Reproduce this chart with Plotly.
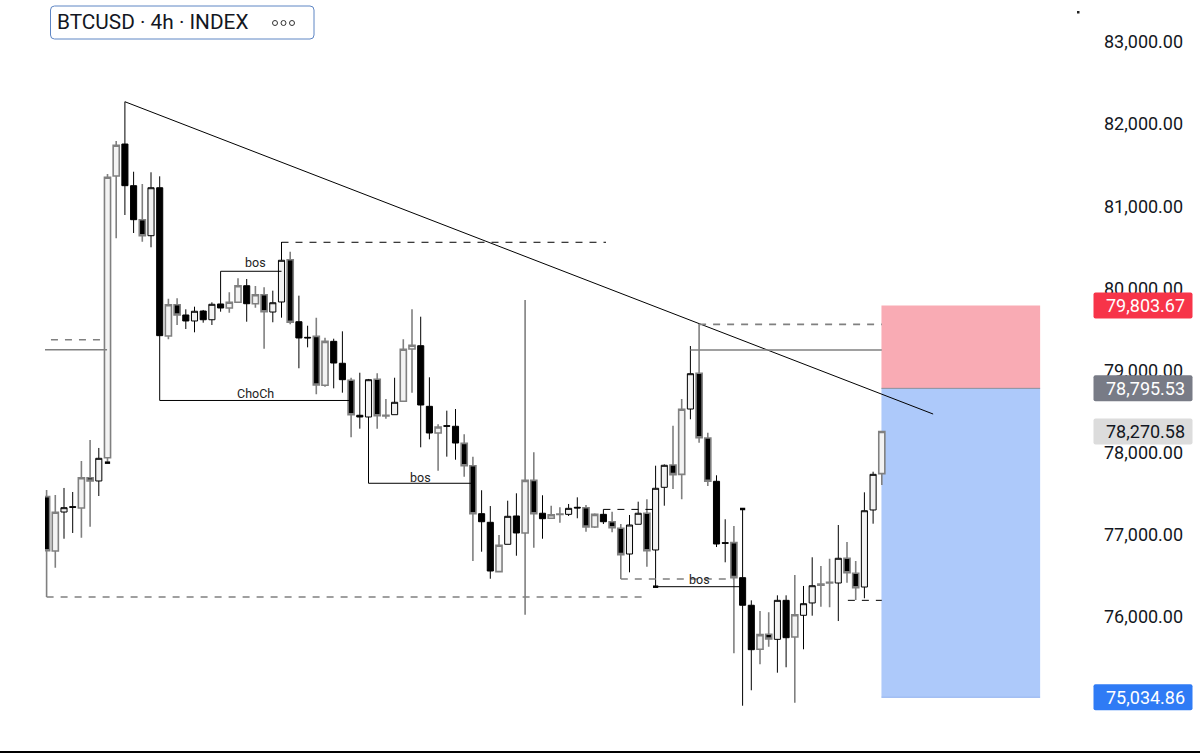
import plotly.graph_objects as go

opens = [77477,76816,77290,77355,77339,77708,77668,77951,81381,81770,81263,80849,80654,81238,79433,79814,79689,79616,79737,79631,79823,79774,79843,80045,79826,79936,79725,79847,80362,79607,79417,79429,78833,79368,79101,78894,78468,78447,78906,78468,78475,78638,79275,79315,78577,78252,78341,78334,78126,77854,77270,77165,76564,76897,77242,77035,77676,77275,77214,77266,77262,77348,77343,77108,77262,77172,77092,76779,77141,77275,76828,77591,77863,77749,78544,78979,78191,77664,76917,76917,76491,76155,75619,75802,75740,76215,75769,76033,76183,76398,76435,76426,76727,76544,76377,77315,77757]
highs = [77558,77497,77583,77534,77911,78167,78070,81405,81807,82285,81433,81283,81426,81377,79887,79892,79758,79790,79750,79843,79823,79965,80136,80127,80042,80026,79985,80577,80459,79924,79558,79656,79412,79400,79490,78925,78986,78910,78979,78666,78925,79393,79758,79668,78930,78358,78524,78544,78236,77964,77555,77363,77010,77428,77518,79871,78017,77494,77367,77348,77388,77469,77376,77275,77323,77294,77144,77254,77416,77445,77854,77870,78341,78666,79311,79579,78256,77737,77202,77120,77327,76215,76085,76069,76276,76276,76523,76390,76739,76633,76722,77132,76925,76694,77530,77781,78277]
lows = [76256,76612,76965,77035,76977,77111,77485,77903,80622,80906,80687,80581,80513,79433,79393,79567,79518,79478,79595,79567,79729,79717,79843,79607,79778,79278,79600,79656,79575,79040,79295,78723,78816,78796,78743,78200,78305,78440,78305,78426,78475,78638,78743,78078,78175,77793,77964,77927,77720,76694,76807,76478,76564,76897,76758,76040,76856,76965,77214,77160,77242,77214,77051,77095,77144,77043,76475,76556,77141,76624,76381,77367,77570,77445,78419,78134,77607,76864,76678,75570,74932,75120,75436,75651,75334,75400,74969,75619,76028,76138,76130,75963,76430,76219,76240,77148,77619]
closes = [76819,77287,77343,77348,77708,77668,77944,81365,81755,81263,80849,80654,81238,79437,79814,79689,79616,79734,79631,79819,79774,79843,80045,79826,79936,79729,79838,80355,79600,79409,79410,78836,79368,79104,78901,78475,78447,78901,78463,78460,78626,79271,79320,78593,78252,78325,78335,78130,77854,77270,77172,76572,76885,77238,77035,77676,77270,77209,77257,77260,77335,77340,77108,77262,77172,77099,76771,77132,77275,76819,77579,77859,77745,78541,78974,78195,77664,76901,76910,76491,76155,75614,75797,75744,76215,75760,76040,76174,76393,76414,76428,76727,76551,76369,77306,77749,78270.58]
# bars whose wick and outline look soft grey in the reference
soft_bars = {0,1,4,5,7,8,11,14,15,21,22,24,25,28,31,32,35,38,39,41,42,45,48,49,52,55,56,58,59,62,63,65,66,69,72,73,75,76,79,82,83,86,89,90,92,93,96}

tick_values = [76000,77000,78000,79000,80000,81000,82000,83000]
tp_price, entry_price, sl_price = 79803.67, 78795.53, 75034.86
last_price = 78270.58
trend_x, trend_y = [9, 101.9], [82285, 78483]

# (x0, x1, price, dashed, soft)
levels = [
    (0.5, 6.4, 79388, True, True),
    (-0.2, 6.95, 79266, False, True),
    (0, 68.9, 76256, True, True),
    (13, 35, 78648, False, False),
    (20, 27, 80221, False, False),
    (27, 64.3, 80574, True, False),
    (37, 49, 77640, False, False),
    (64, 69.9, 77322, True, False),
    (66, 79, 76475, True, True),
    (70, 80, 76381, False, False),
    (75, 96, 79575, True, True),
    (74, 96, 79263, False, True),
    (92.1, 96, 76215, True, False),
]
# (x, price from, price to)
verticals = [(13, 79437, 78648), (20, 79823, 80221), (37, 78447, 77640)]
# (x0, x1, price)
markers = [(6.7, 7.3, 77891), (69.7, 70.3, 76381), (79.7, 80.3, 77327)]
# (text, x, price, pixel shift)
labels = [("ChoCh", 24, 78648, -3), ("bos", 24, 80221, -1), ("bos", 43, 77640, -4), ("bos", 75, 76475, -10)]
box_x = [95.96, 114.2]

W, H = 1200, 753
LEFT, RIGHT, BOTTOM = 45, 1100, 751
SPACING, X0 = 8.7, 46.6
PX_PER_UNIT = 12.174


def paper_x(px):
    return (px - LEFT) / (RIGHT - LEFT)


def paper_y(px):
    return 1 - px / BOTTOM


def rounded(x0, y0, x1, y1, r):
    a, b, c, d = paper_x(x0), paper_x(x1), paper_y(y0), paper_y(y1)
    rx, ry = r / (RIGHT - LEFT), r / BOTTOM
    return (f"M{a+rx},{c} L{b-rx},{c} Q{b},{c} {b},{c-ry} L{b},{d+ry} Q{b},{d} {b-rx},{d} "
            f"L{a+rx},{d} Q{a},{d} {a},{d+ry} L{a},{c-ry} Q{a},{c} {a+rx},{c} Z")


def candles(idx, color, width):
    return go.Candlestick(
        x=idx,
        open=[opens[i] for i in idx], high=[highs[i] for i in idx],
        low=[lows[i] for i in idx], close=[closes[i] for i in idx],
        increasing=dict(fillcolor="#f3f3f3", line=dict(color=color, width=width)),
        decreasing=dict(fillcolor="#000000", line=dict(color=color, width=width)),
        whiskerwidth=0, hoverinfo="skip", showlegend=False,
    )


all_bars = list(range(len(opens)))
fig = go.Figure([
    candles([i for i in all_bars if i not in soft_bars], "#000000", 1),
    candles([i for i in all_bars if i in soft_bars], "#808080", 1.6),
])

shapes = [
    dict(type="rect", xref="x", yref="y", x0=box_x[0], x1=box_x[1], y0=entry_price, y1=tp_price,
         fillcolor="#f9abb4", line_width=0, layer="below"),
    dict(type="rect", xref="x", yref="y", x0=box_x[0], x1=box_x[1], y0=sl_price, y1=entry_price,
         fillcolor="#adc9fa", line_width=0, layer="below"),
    dict(type="line", xref="x", yref="y", x0=box_x[0], x1=box_x[1], y0=entry_price, y1=entry_price,
         line=dict(color="#8a8f9c", width=1)),
    dict(type="line", xref="x", yref="y", x0=box_x[0], x1=box_x[1], y0=sl_price, y1=sl_price,
         line=dict(color="#8fb0ee", width=1)),
    dict(type="line", xref="x", yref="y", x0=trend_x[0], x1=trend_x[1], y0=trend_y[0], y1=trend_y[1],
         line=dict(color="#000000", width=1)),
]
for x0, x1, p, dashed, soft in levels:
    shapes.append(dict(type="line", xref="x", yref="y", x0=x0, x1=x1, y0=p, y1=p,
                       line=dict(color="#808080" if soft else "#000000", width=1.6 if soft else 1,
                                 dash="7px,7px" if dashed else "solid")))
for x, p0, p1 in verticals:
    shapes.append(dict(type="line", xref="x", yref="y", x0=x, x1=x, y0=p0, y1=p1,
                       line=dict(color="#000000", width=1)))
for x0, x1, p in markers:
    shapes.append(dict(type="line", xref="x", yref="y", x0=x0, x1=x1, y0=p, y1=p,
                       line=dict(color="#000000", width=2.5)))

# title box, dots, bottom rule, price pills
shapes.append(dict(type="path", xref="paper", yref="paper", path=rounded(50.5, 6, 314, 39, 4),
                   line=dict(color="#5f86c4", width=1), fillcolor="#ffffff"))
for cx in (275, 283.5, 292):
    shapes.append(dict(type="circle", xref="paper", yref="paper",
                       x0=paper_x(cx - 2.5), x1=paper_x(cx + 2.5), y0=paper_y(25.5), y1=paper_y(20.5),
                       line=dict(color="#333333", width=1), fillcolor="#ffffff"))
shapes.append(dict(type="rect", xref="paper", yref="paper", x0=paper_x(1077), x1=paper_x(1079.5),
                   y0=paper_y(13.5), y1=paper_y(11), fillcolor="#222222", line_width=0))
shapes.append(dict(type="rect", xref="paper", yref="paper", x0=paper_x(0), x1=paper_x(1200),
                   y0=paper_y(753), y1=paper_y(751), fillcolor="#000000", line_width=0))
pills = [(tp_price, "#f73449", "#ffffff"), (entry_price, "#787b86", "#ffffff"),
         (last_price, "#dcdcdc", "#131722"), (sl_price, "#2f7bf5", "#ffffff")]
annotations = []
for price, bg, fg in pills:
    yc = 43 + (83000 - price) / PX_PER_UNIT
    shapes.append(dict(type="path", xref="paper", yref="paper",
                       path=rounded(1093.5, yc - 13, 1192.5, yc + 13, 2), fillcolor=bg, line_width=0))
    annotations.append(dict(xref="paper", yref="paper", x=paper_x(1145.5), y=paper_y(yc),
                            text=f"{price:,.2f}", showarrow=False, xanchor="center", yanchor="middle",
                            font=dict(family="Roboto", size=18, color=fg)))
for text, x, p, shift in labels:
    annotations.append(dict(xref="x", yref="y", x=x, y=p, text=text, showarrow=False,
                            xanchor="center", yanchor="bottom", yshift=shift,
                            font=dict(family="Roboto", size=12.5, color="#222222")))
annotations.append(dict(xref="paper", yref="paper", x=paper_x(54.5), y=paper_y(22.5),
                        text="BTCUSD · 4h · INDEX", showarrow=False, xanchor="left", yanchor="middle",
                        font=dict(family="Roboto", size=20.8, color="#131722")))

fig.update_layout(
    width=W, height=H, paper_bgcolor="#ffffff", plot_bgcolor="#ffffff",
    margin=dict(l=LEFT, r=W - RIGHT, t=0, b=H - BOTTOM, autoexpand=False),
    boxgap=0.3, boxgroupgap=0, shapes=shapes, annotations=annotations, showlegend=False,
    xaxis=dict(range=[(LEFT - X0) / SPACING, (RIGHT - X0) / SPACING], visible=False,
               rangeslider=dict(visible=False), showgrid=False, zeroline=False),
    yaxis=dict(range=[83000 - (BOTTOM - 43) * PX_PER_UNIT, 83000 + 43 * PX_PER_UNIT],
               side="right", tickvals=tick_values, tickformat=",.2f", showgrid=False,
               zeroline=False, showline=False, ticks="", ticklabelstandoff=3, ticklabelshift=-1,
               tickfont=dict(family="Roboto", size=18, color="#131722")),
)
fig.write_html("out.html", config=dict(displayModeBar=False),
               post_script="document.body.style.margin='0';document.documentElement.style.overflow='hidden';")
